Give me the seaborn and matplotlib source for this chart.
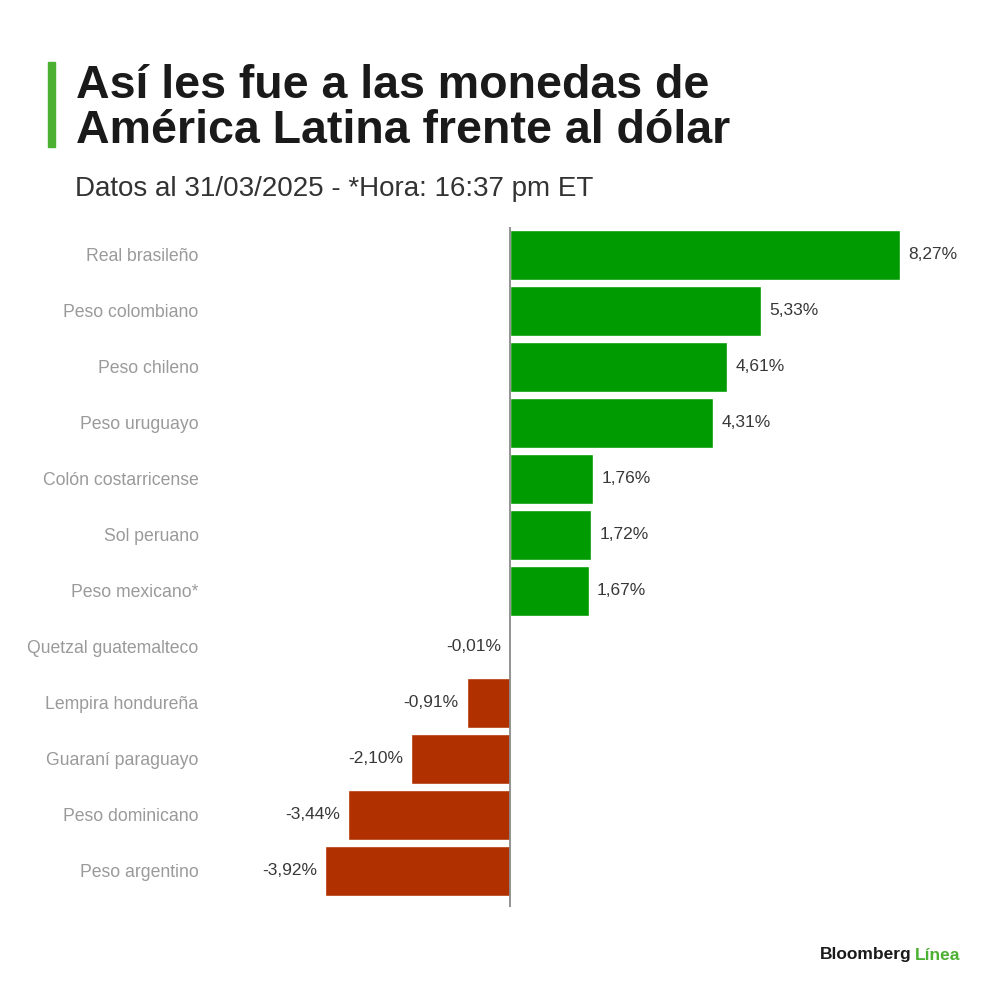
import matplotlib
matplotlib.use('Agg')
import matplotlib.pyplot as plt
import seaborn as sns
import pandas as pd

# Data
currencies = ['Real brasileño', 'Peso colombiano', 'Peso chileno', 'Peso uruguayo',
              'Colón costarricense', 'Sol peruano', 'Peso mexicano*',
              'Quetzal guatemalteco', 'Lempira hondureña', 'Guaraní paraguayo',
              'Peso dominicano', 'Peso argentino']
changes = [8.27, 5.33, 4.61, 4.31, 1.76, 1.72, 1.67, -0.01, -0.91, -2.10, -3.44, -3.92]

GREEN = '#009b00'
RED = '#b03000'

sns.set_style('white')
plt.rcParams['font.family'] = ['Liberation Sans', 'DejaVu Sans']

df = pd.DataFrame({'currency': currencies, 'change': changes})
df['sign'] = ['up' if v >= 0 else 'down' for v in df['change']]

fig = plt.figure(figsize=(10, 10), dpi=100)
ax = fig.add_axes([0.25, 0.093, 0.70, 0.68])

sns.barplot(data=df, x='change', y='currency', hue='sign',
            palette={'up': GREEN, 'down': RED}, width=0.89,
            dodge=False, legend=False, orient='h', ax=ax, saturation=1)

ax.set_xlim(-5.52, 9.34)
ax.set_ylim(11.65, -0.5)
ax.axvline(0, color='#8a8a8a', linewidth=1.3, zorder=3)

for i, v in enumerate(df['change']):
    label = f'{v:.2f}%'.replace('.', ',')
    if v >= 0:
        ax.annotate(label, (v, i), xytext=(6, 0), textcoords='offset points',
                    ha='left', va='center', fontsize=12.5, color='#383838')
    else:
        ax.annotate(label, (v, i), xytext=(-6, 0), textcoords='offset points',
                    ha='right', va='center', fontsize=12.5, color='#383838')

for s in ax.spines.values():
    s.set_visible(False)
ax.set_xticks([])
ax.set_xlabel('')
ax.set_ylabel('')
ax.tick_params(axis='y', length=0, pad=37, labelsize=12.7, labelcolor='#9a9a9a')

# Header
fig.patches.append(plt.Rectangle((0.048, 0.853), 0.007, 0.085,
                                 transform=fig.transFigure, color='#4cb032'))
fig.text(0.076, 0.902, 'Así les fue a las monedas de', fontsize=33.5,
         fontweight='bold', color='#1a1a1a', va='baseline', ha='left')
fig.text(0.076, 0.857, 'América Latina frente al dólar', fontsize=33.5,
         fontweight='bold', color='#1a1a1a', va='baseline', ha='left')
fig.text(0.075, 0.804, 'Datos al 31/03/2025 - *Hora: 16:37 pm ET', fontsize=20,
         color='#333333', va='baseline', ha='left')

# Logo
fig.text(0.912, 0.045, 'Bloomberg', fontsize=12.5, fontweight='bold',
         color='#1a1a1a', ha='right', va='center')
fig.text(0.915, 0.045, 'Línea', fontsize=12.5, fontweight='bold',
         color='#4cb032', ha='left', va='center')

fig.savefig('out.png', dpi=100, facecolor='white')
